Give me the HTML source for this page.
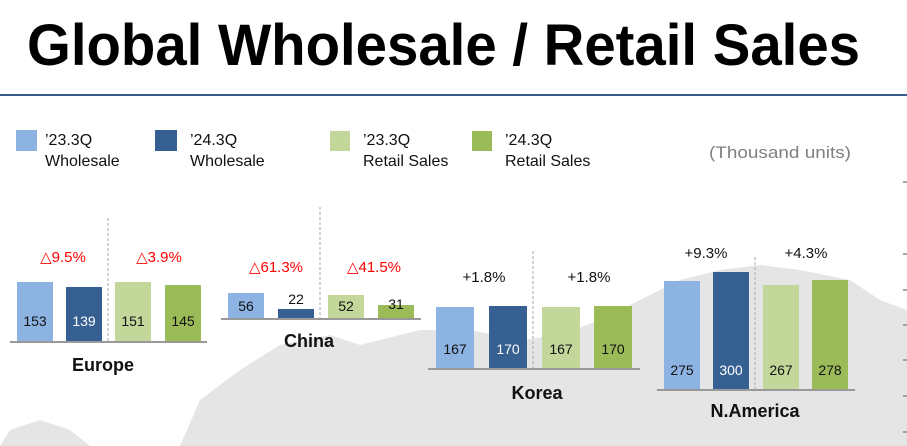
<!DOCTYPE html>
<html><head><meta charset="utf-8"><style>
html,body{margin:0;padding:0;background:#fff;}
svg{display:block;font-family:"Liberation Sans",sans-serif;}
</style></head><body>
<svg width="907" height="446" viewBox="0 0 907 446" xmlns="http://www.w3.org/2000/svg">
<g fill="#e5e5e5">
<path d="M180 446 L200 400 L240 370 L280 345 L330 335 L360 345 L420 330 L470 330 L520 340 L560 335 L600 320 L640 300 L680 280 L720 270 L760 265 L800 270 L850 280 L880 300 L907 310 L907 446 Z"/>
<path d="M0 446 L10 430 L40 420 L70 430 L90 446 Z"/>
</g>
<text x="27" y="65" font-size="58" font-weight="bold" fill="#000" textLength="833" lengthAdjust="spacingAndGlyphs">Global Wholesale / Retail Sales</text>
<rect x="0" y="94" width="907" height="2" fill="#3b5d8a"/>
<g font-size="16" fill="#111">
<rect x="16" y="130" width="21" height="21" fill="#8db3e2"/>
<text x="45" y="145">’23.3Q</text><text x="45" y="166">Wholesale</text>
<rect x="155" y="130" width="22" height="21" fill="#376092"/>
<text x="190" y="145">’24.3Q</text><text x="190" y="166">Wholesale</text>
<rect x="330" y="131" width="20" height="20" fill="#c4d79b"/>
<text x="363" y="145">’23.3Q</text><text x="363" y="166">Retail Sales</text>
<rect x="472" y="131" width="20" height="20" fill="#9bbb59"/>
<text x="505" y="145">’24.3Q</text><text x="505" y="166">Retail Sales</text>
</g>
<text x="709" y="158" font-size="17" fill="#808080" textLength="142" lengthAdjust="spacingAndGlyphs">(Thousand units)</text>
<g stroke="#888" stroke-width="1.5"><line x1="903" y1="182" x2="907" y2="182"/><line x1="903" y1="254" x2="907" y2="254"/><line x1="903" y1="290" x2="907" y2="290"/><line x1="903" y1="325" x2="907" y2="325"/><line x1="903" y1="360" x2="907" y2="360"/><line x1="903" y1="396" x2="907" y2="396"/><line x1="903" y1="432" x2="907" y2="432"/></g>

<g stroke="#aaa" stroke-width="1" stroke-dasharray="3,2">
<line x1="108" y1="218" x2="108" y2="342"/>
<line x1="320" y1="207" x2="320" y2="319"/>
<line x1="533" y1="251" x2="533" y2="369"/>
<line x1="755" y1="257" x2="755" y2="390"/>
</g>

<rect x="17" y="282" width="36" height="60" fill="#8db3e2"/>
<rect x="66" y="287" width="36" height="55" fill="#376092"/>
<rect x="115" y="282" width="36" height="60" fill="#c4d79b"/>
<rect x="165" y="285" width="36" height="57" fill="#9bbb59"/>
<rect x="10" y="341" width="197" height="2" fill="#999"/>
<g font-size="14" text-anchor="middle">
<text x="35" y="326" fill="#111">153</text><text x="84" y="326" fill="#fff">139</text><text x="133" y="326" fill="#111">151</text><text x="183" y="326" fill="#111">145</text>
</g>
<g font-size="15" text-anchor="middle" fill="#ff0000"><text x="63" y="262">△9.5%</text><text x="159" y="262">△3.9%</text></g>
<text x="103" y="371" font-size="18" font-weight="bold" text-anchor="middle" fill="#111">Europe</text>

<rect x="228" y="293" width="36" height="26" fill="#8db3e2"/>
<rect x="278" y="309" width="36" height="10" fill="#376092"/>
<rect x="328" y="295" width="36" height="24" fill="#c4d79b"/>
<rect x="378" y="305" width="36" height="14" fill="#9bbb59"/>
<rect x="221" y="318" width="200" height="2" fill="#999"/>
<g font-size="14" text-anchor="middle" fill="#111">
<text x="246" y="311">56</text><text x="296" y="304">22</text><text x="346" y="311">52</text><text x="396" y="309">31</text>
</g>
<g font-size="15" text-anchor="middle" fill="#ff0000"><text x="276" y="272">△61.3%</text><text x="374" y="272">△41.5%</text></g>
<text x="309" y="347" font-size="18" font-weight="bold" text-anchor="middle" fill="#111">China</text>

<rect x="436" y="307" width="38" height="62" fill="#8db3e2"/>
<rect x="489" y="306" width="38" height="63" fill="#376092"/>
<rect x="542" y="307" width="38" height="62" fill="#c4d79b"/>
<rect x="594" y="306" width="38" height="63" fill="#9bbb59"/>
<rect x="428" y="368" width="212" height="2" fill="#999"/>
<g font-size="14" text-anchor="middle">
<text x="455" y="354" fill="#111">167</text><text x="508" y="354" fill="#fff">170</text><text x="561" y="354" fill="#111">167</text><text x="613" y="354" fill="#111">170</text>
</g>
<g font-size="15" text-anchor="middle" fill="#111"><text x="484" y="282">+1.8%</text><text x="589" y="282">+1.8%</text></g>
<text x="537" y="399" font-size="18" font-weight="bold" text-anchor="middle" fill="#111">Korea</text>

<rect x="664" y="281" width="36" height="109" fill="#8db3e2"/>
<rect x="713" y="272" width="36" height="118" fill="#376092"/>
<rect x="763" y="285" width="36" height="105" fill="#c4d79b"/>
<rect x="812" y="280" width="36" height="110" fill="#9bbb59"/>
<rect x="657" y="389" width="198" height="2" fill="#999"/>
<g font-size="14" text-anchor="middle">
<text x="682" y="375" fill="#111">275</text><text x="731" y="375" fill="#fff">300</text><text x="781" y="375" fill="#111">267</text><text x="830" y="375" fill="#111">278</text>
</g>
<g font-size="15" text-anchor="middle" fill="#111"><text x="706" y="258">+9.3%</text><text x="806" y="258">+4.3%</text></g>
<text x="755" y="417" font-size="18" font-weight="bold" text-anchor="middle" fill="#111">N.America</text>
</svg>
</body></html>
